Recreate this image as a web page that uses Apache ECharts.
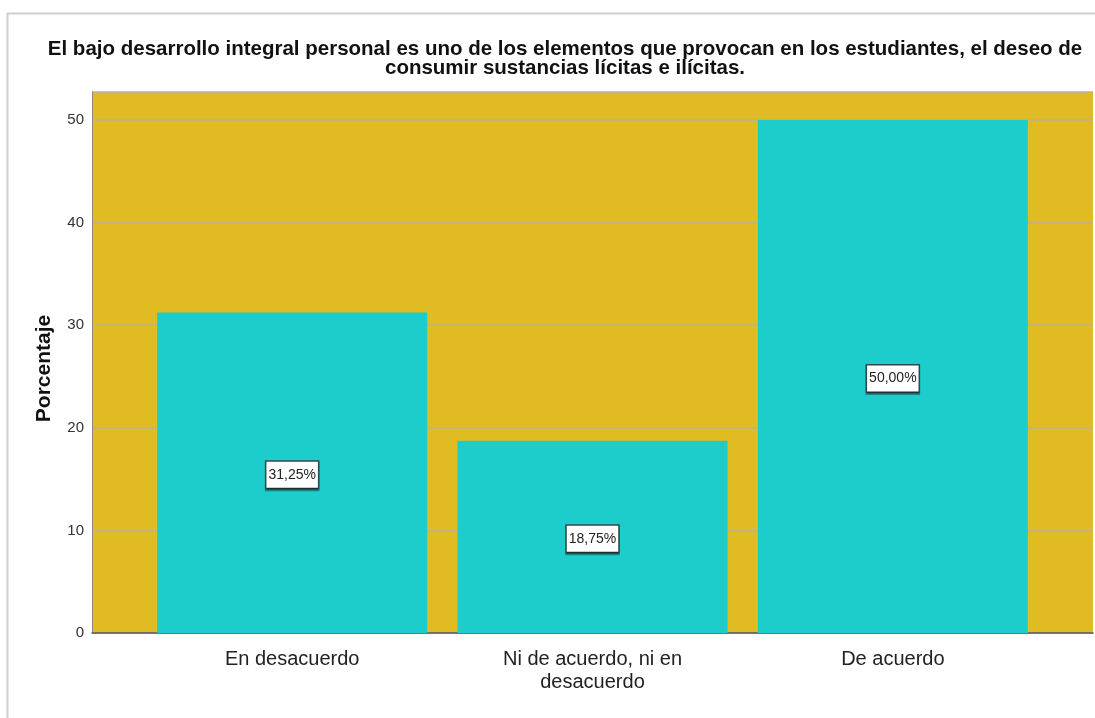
<!DOCTYPE html>
<html>
<head>
<meta charset="utf-8">
<script src="https://cdn.jsdelivr.net/npm/echarts@6/dist/echarts.min.js"></script>
<style>
  html, body { margin: 0; padding: 0; background: #fff; }
  #chart { width: 1095px; height: 718px; }
</style>
</head>
<body>
<div id="chart"></div>
<script>
// data
const titleLines = [
  'El bajo desarrollo integral personal es uno de los elementos que provocan en los estudiantes, el deseo de',
  'consumir sustancias lícitas e ilícitas.'
]
const categories = ['En desacuerdo', 'Ni de acuerdo, ni en\ndesacuerdo', 'De acuerdo']
const percentages = [31.25, 18.75, 50.0]
const yTicks = [0, 10, 20, 30, 40, 50]

const yMax = 52.73
const font = '"Liberation Sans", Arial, sans-serif'

const chart = echarts.init(document.getElementById('chart'))

const option = {
  animation: false,
  title: {
    text: titleLines.join('\n'),
    left: 560,
    textAlign: 'center',
    top: 35,
    textStyle: {
      fontFamily: font,
      fontSize: 20.5,
      fontWeight: 'bold',
      color: '#111',
      lineHeight: 19,
    },
  },
  graphic: [
    {
      type: 'polyline',
      shape: { points: [[7.5, 718], [7.5, 13.5], [1095, 13.5]] },
      style: { stroke: '#cfcfcf', lineWidth: 2, fill: null },
      silent: true,
    },
  ],
  grid: [
    {
      left: 92, top: 92, width: 1001, height: 541,
      show: true, backgroundColor: '#e0bb21', borderWidth: 0,
    },
    {
      left: 142, top: 92, width: 901, height: 541,
    },
  ],
  xAxis: [
    {
      gridIndex: 0,
      type: 'category',
      data: [''],
      axisLine: { show: true, lineStyle: { color: '#5a5a5a', width: 1.5 } },
      axisTick: { show: false },
      axisLabel: { show: false },
    },
    {
      gridIndex: 1,
      type: 'category',
      data: categories,
      axisLine: { show: false },
      axisTick: { show: false },
      axisLabel: {
        margin: 15,
        fontFamily: font,
        fontSize: 20,
        lineHeight: 23,
        color: '#222',
      },
    },
  ],
  yAxis: [
    {
      gridIndex: 0,
      type: 'value',
      min: 0,
      max: yMax,
      interval: 10,
      name: 'Porcentaje',
      nameLocation: 'middle',
      nameGap: 37,
      nameTextStyle: {
        fontFamily: font, fontSize: 21, fontWeight: 'bold', color: '#111',
        padding: [0, 12, 0, 0],
      },
      axisLine: { show: true, lineStyle: { color: '#8a8a8a', width: 1 } },
      axisTick: { show: false },
      axisLabel: {
        showMaxLabel: false,
        margin: 8,
        fontFamily: font,
        fontSize: 15,
        color: '#333',
        formatter: (v) => (yTicks.includes(v) ? String(v) : ''),
      },
      splitLine: { show: true, lineStyle: { color: '#b9b29c', width: 1.5 } },
    },
    {
      gridIndex: 1,
      type: 'value',
      min: 0,
      max: yMax,
      show: false,
      splitLine: { show: false },
    },
  ],
  series: [
    {
      type: 'bar',
      xAxisIndex: 1,
      yAxisIndex: 1,
      data: percentages,
      barWidth: 270,
      itemStyle: { color: '#1ccdcc' },
      label: {
        show: true,
        position: 'inside',
        offset: [0, 2],
        formatter: (p) => p.value.toFixed(2).replace('.', ',') + '%',
        fontFamily: font,
        fontSize: 14,
        color: '#222',
        backgroundColor: '#fff',
        borderColor: '#2f4a4a',
        borderWidth: 1.5,
        padding: [7, 2, 5, 2],
        shadowColor: 'rgba(0,0,0,0.35)',
        shadowOffsetY: 2,
        shadowBlur: 0,
      },
    },
  ],
}

chart.setOption(option)
</script>
</body>
</html>
